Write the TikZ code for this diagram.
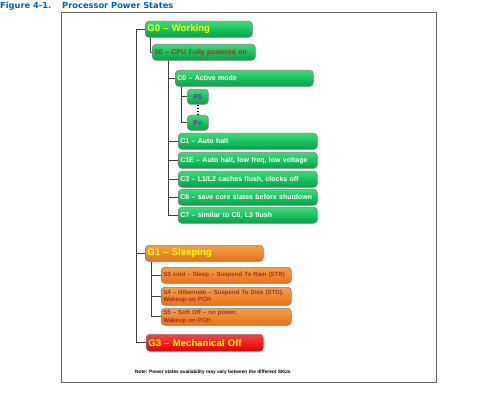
\documentclass[tikz,border=0pt]{standalone}
\usepackage{fontspec}
\setmainfont{Liberation Sans}
\newfontfamily\titlefont{DejaVu Sans}
\definecolor{intelblue}{HTML}{0860A8}
\definecolor{boxedge}{HTML}{808080}
\definecolor{wirecol}{HTML}{404040}
\definecolor{greentop}{HTML}{3ADB7A}
\definecolor{greenbot}{HTML}{00A445}
\definecolor{orangetop}{HTML}{F5A04A}
\definecolor{orangebot}{HTML}{E8701A}
\definecolor{redtop}{HTML}{FF4040}
\definecolor{redbot}{HTML}{E00000}
\definecolor{gtext}{HTML}{FFFF00}
\definecolor{stext}{HTML}{A0302C}
\definecolor{ptext}{HTML}{7030A0}

\begin{document}
\begin{tikzpicture}[x=1pt,y=-1pt,
  greenfill/.style={top color=greentop,bottom color=greenbot},
  orangefill/.style={top color=orangetop,bottom color=orangebot},
  redfill/.style={top color=redtop,bottom color=redbot},
  state/.style={draw=boxedge,line width=0.6pt,rounded corners=3.5pt,anchor=north west,
    inner xsep=2pt,inner ysep=0pt,align=left,minimum height=16pt},
  gstate/.style={state,text=gtext,font=\bfseries\fontsize{9.6}{11}\selectfont},
  sstate/.style={state,greenfill,text=stext,font=\bfseries\fontsize{7}{8}\selectfont},
  cstate/.style={state,greenfill,text=white,font=\bfseries\fontsize{7}{8}\selectfont},
  pstate/.style={state,greenfill,text=ptext,align=center,minimum width=21pt,minimum height=15pt,
    font=\bfseries\fontsize{7}{8}\selectfont},
  lstate/.style={state,orangefill,text=stext,text width=126pt,font=\bfseries\fontsize{6.1}{7.4}\selectfont},
  wire/.style={draw=wirecol,line width=0.8pt}]
\useasboundingbox (0,0) rectangle (500,403);
\node[anchor=west,inner sep=0pt,text=intelblue,font=\titlefont\bfseries\fontsize{8.3}{9}\selectfont] (title) at (0,6)
  {\makebox[62pt][l]{Figure 4-1.}Processor Power States};
\draw[draw=boxedge!80!black,line width=1pt] (61,13) rectangle (436,382);

\node[gstate,greenfill,text width=103pt] (G0) at (145,21) {G0 – Working};
\node[sstate,text width=99pt] (S0) at (152,44) {S0 – CPU Fully powered on};
\node[cstate,text width=134pt] (C0) at (175,70) {C0 – Active mode};
\node[pstate] (P0) at (187,89) {P0};
\node[pstate] (Pn) at (187,115) {Pn};
\node[cstate,text width=135pt] (C1) at (178,133) {C1 – Auto halt};
\node[cstate,text width=135pt] (C1E) at (178,152) {C1E – Auto halt, low freq, low voltage};
\node[cstate,text width=135pt] (C3) at (178,171) {C3 – L1/L2 caches flush, clocks off};
\node[cstate,text width=135pt] (C6) at (178,189) {C6 – save core states before shutdown};
\node[cstate,text width=135pt] (C7) at (178,207) {C7 – similar to C6, L3 flush};
\node[gstate,orangefill,text width=114pt] (G1) at (145,245) {G1 – Sleeping};
\node[lstate] (S3) at (161,267) {S3 cold – Sleep – Suspend To Ram (STR)};
\node[lstate,minimum height=18pt] (S4) at (161,287) {S4 – Hibernate – Suspend To Disk (STD),\\Wakeup on PCH};
\node[lstate,minimum height=17pt] (S5) at (161,308) {S5 – Soft Off – no power,\\Wakeup on PCH};
\node[gstate,redfill,text width=113pt,minimum height=17pt] (G3) at (146,334) {G3 – Mechanical Off};
\node[anchor=west,inner sep=0pt,font=\bfseries\fontsize{4.8}{5.5}\selectfont] (note) at (135,372)
  {Note: Power states availability may vary between the different SKUs};

\draw[wire] (G0.west) -- ++(-9,0) |- (G3.west);
\draw[wire] (G0.west) ++(-9,0) |- (G1.west);
\draw[wire] ([xshift=5pt]G0.south west) |- (S0.west);
\foreach \n in {C0,C1,C1E,C3,C6,C7}
  \draw[wire] ([xshift=16pt]S0.south west) |- (\n.west);
\foreach \n in {P0,Pn}
  \draw[wire] ([xshift=6pt]C0.south west) |- (\n.west);
\draw[line width=1.6pt,dash pattern=on 1.6pt off 1.4pt] (P0.south) -- (Pn.north);
\foreach \n in {S3,S4,S5}
  \draw[wire] ([xshift=6pt]G1.south west) |- (\n.west);
\end{tikzpicture}
\end{document}
